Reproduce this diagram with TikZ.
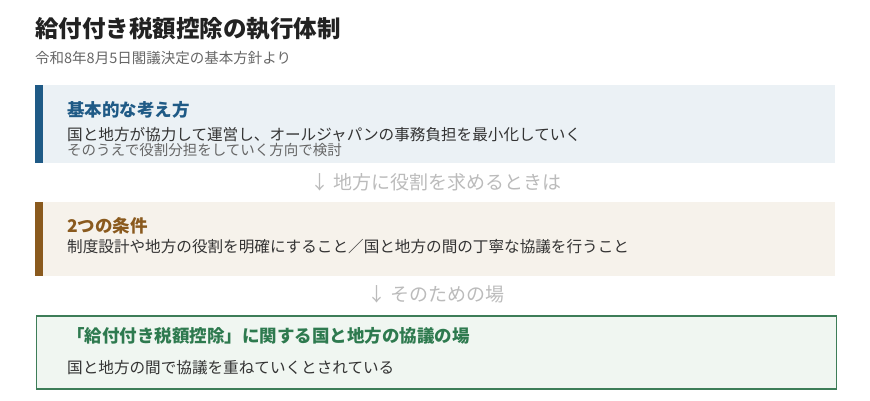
\documentclass[tikz,border=0pt]{standalone}
\usepackage{fontspec}
\setmainfont{Noto Sans CJK JP}
\newcommand{\w}{800pt}

\definecolor{titleink}{HTML}{222222}
\definecolor{subink}{HTML}{666666}
\definecolor{bodyink}{HTML}{333333}
\definecolor{noteink}{HTML}{666666}
\definecolor{flowink}{HTML}{BBBBBB}
\definecolor{bluebar}{HTML}{1F5A86}
\definecolor{bluefill}{HTML}{EBF1F5}
\definecolor{brownbar}{HTML}{8A5A1E}
\definecolor{brownfill}{HTML}{F6F2EB}
\definecolor{greenline}{HTML}{3D7D58}
\definecolor{greenhead}{HTML}{2E7A4F}
\definecolor{greenfill}{HTML}{F0F6F1}

\begin{document}
\begin{tikzpicture}[x=1pt, y=-1pt,
    panel/.style={rectangle, anchor=north west, minimum width=\w, inner sep=0pt},
    txt/.style={anchor=west, inner sep=0pt},
    head/.style={txt, font=\bfseries\fontsize{17.5}{20}\selectfont},
    body/.style={txt, text=bodyink, font=\fontsize{15.6}{18}\selectfont},
    flow/.style={inner sep=0pt, text=flowink, font=\fontsize{19}{22}\selectfont}]
    \useasboundingbox (0,0) rectangle (870,400);

    % Title
    \node[txt, text=titleink, font=\bfseries\fontsize{23.5}{26}\selectfont] (title) at (35,29) {給付付き税額控除の執行体制};
    \node[txt, text=subink, font=\fontsize{14.5}{17}\selectfont] (subtitle) at (35,58) {令和8年8月5日閣議決定の基本方針より};

    % First panel
    \node[panel, fill=bluefill, minimum height=78pt] (panel-1) at (35,85) {};
    \fill[bluebar] (panel-1.north west) rectangle ([xshift=8pt]panel-1.south west);
    \node[head, text=bluebar] (head-1) at (67,109.5) {基本的な考え方};
    \node[body] (body-1) at (67,135) {国と地方が協力して運営し、オールジャパンの事務負担を最小化していく};
    \node[txt, text=noteink, font=\fontsize{14.5}{17}\selectfont] (note-1) at (67,149.5) {そのうえで役割分担をしていく方向で検討};

    \node[flow] (flow-1) at (436,182) {↓ 地方に役割を求めるときは};

    % Second panel
    \node[panel, fill=brownfill, minimum height=74pt] (panel-2) at (35,202) {};
    \fill[brownbar] (panel-2.north west) rectangle ([xshift=8pt]panel-2.south west);
    \node[head, text=brownbar] (head-2) at (67,225.5) {2つの条件};
    \node[body] (body-2) at (67,247) {制度設計や地方の役割を明確にすること／国と地方の間の丁寧な協議を行うこと};

    \node[flow] (flow-2) at (436,294) {↓ そのための場};

    % Third panel
    \node[panel, fill=greenfill, draw=greenline, line width=1.5pt, minimum height=73pt] (panel-3) at (35.75,315) {};
    \node[head, text=greenhead] (head-3) at (67,336) {「給付付き税額控除」に関する国と地方の協議の場};
    \node[body] (body-3) at (67,368) {国と地方の間で協議を重ねていくとされている};

\end{tikzpicture}
\end{document}
